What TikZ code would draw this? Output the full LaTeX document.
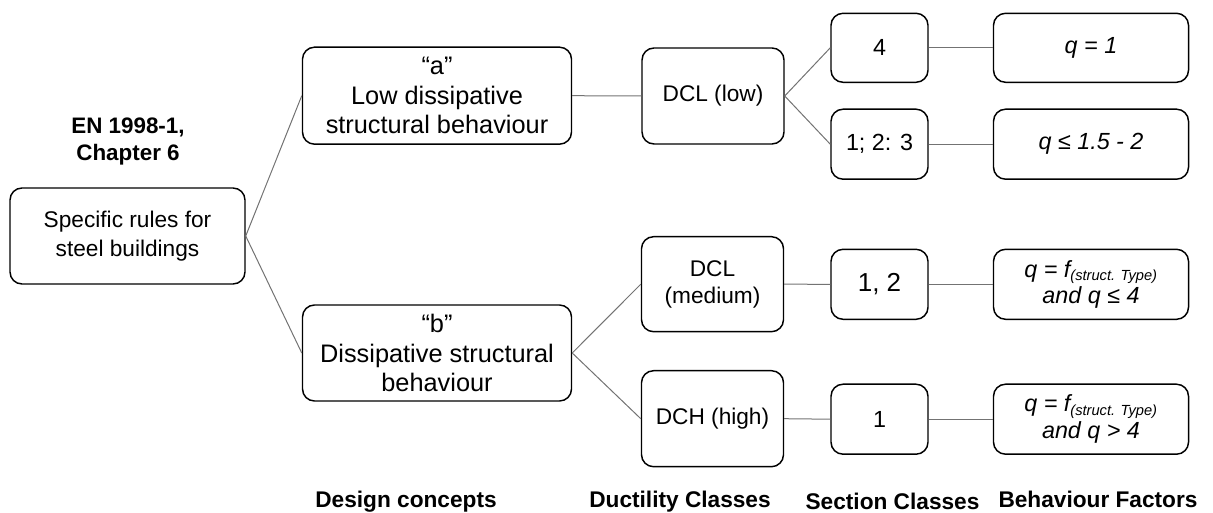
\documentclass[tikz,border=0pt]{standalone}
\usepackage{fontspec}
\setmainfont{Liberation Sans}
\newdimen\pxu
\pxu=0.75pt
\begin{document}
\begin{tikzpicture}[x=0.75pt,y=-0.75pt,
  box/.style={draw=black, line width=1.1pt, rounded corners=9pt, align=center, inner sep=0pt,
              font=\fontsize{17}{22}\selectfont},
  link/.style={draw=black!55, line width=0.75pt},
  head/.style={font=\bfseries\fontsize{17}{20}\selectfont, inner sep=0pt, anchor=base},
  qt/.style={font=\itshape\fontsize{17.5}{20}\selectfont}]
\useasboundingbox (0,0) rectangle (1213,513);

\node[font=\bfseries\fontsize{16.8}{20}\selectfont, align=center, inner sep=0pt] (title) at (128,141.5) {EN 1998-1,\\Chapter 6};

\node[box, minimum width=235\pxu, minimum height=96\pxu] (root) at (127.5,236) {Specific rules for\\steel buildings};
\node[box, font=\fontsize{19}{22}\selectfont, minimum width=269\pxu, minimum height=97\pxu] (a) at (437,95.7) {``a''\\Low dissipative\\structural behaviour};
\node[box, font=\fontsize{19}{22}\selectfont, minimum width=269\pxu, minimum height=96\pxu] (b) at (437,353) {``b''\\Dissipative structural\\behaviour};

\node[box, minimum width=142\pxu, minimum height=96\pxu] (dcl) at (713,96) {DCL (low)};
\node[box, minimum width=142\pxu, minimum height=95\pxu, font=\fontsize{17}{20}\selectfont] (dclm) at (712.5,284.2) {DCL\\(medium)};
\node[box, minimum width=142\pxu, minimum height=96\pxu] (dch) at (712.5,418.7) {DCH (high)};

\node[box, font=\fontsize{17.5}{20}\selectfont, minimum width=97\pxu, minimum height=69\pxu] (s4) at (879.5,47.8) {4};
\node[box, font=\fontsize{17.5}{20}\selectfont, minimum width=97\pxu, minimum height=70\pxu] (s123) at (879.5,144.2) {1; 2: 3};
\node[box, minimum width=97\pxu, minimum height=70\pxu, font=\fontsize{19.5}{22}\selectfont] (s12) at (879.5,284.3) {1, 2};
\node[box, minimum width=97\pxu, minimum height=70\pxu, font=\fontsize{17.5}{20}\selectfont] (s1) at (879.5,419.2) {1};

\node[box, qt, minimum width=195\pxu, minimum height=69\pxu] (q1) at (1091,47.8) {q = 1};
\node[box, qt, minimum width=195\pxu, minimum height=70\pxu] (q2) at (1091,144.2) {q ≤ 1.5 - 2};
\node[box, qt, minimum width=195\pxu, minimum height=70\pxu] (q3) at (1091,284.3) {q = f\textsubscript{\fontsize{11}{12}\selectfont(struct. Type)}\\and q ≤ 4};
\node[box, qt, minimum width=195\pxu, minimum height=70\pxu] (q4) at (1091,419.2) {q = f\textsubscript{\fontsize{11}{12}\selectfont(struct. Type)}\\and q > 4};

\draw[link] (root.east) -- (a.west);
\draw[link] (root.east) -- (b.west);
\draw[link] (a.east) -- (dcl.west);
\draw[link] (dcl.east) -- (s4.west);
\draw[link] (dcl.east) -- (s123.west);
\draw[link] (s4.east) -- (q1.west);
\draw[link] (s123.east) -- (q2.west);
\draw[link] (b.east) -- (dclm.west);
\draw[link] (b.east) -- (dch.west);
\draw[link] (dclm.east) -- (s12.west);
\draw[link] (s12.east) -- (q3.west);
\draw[link] (dch.east) -- (s1.west);
\draw[link] (s1.east) -- (q4.west);

\node[head] (h1) at (406,507) {Design concepts};
\node[head] (h2) at (680,507) {Ductility Classes};
\node[head] (h3) at (892.5,509) {Section Classes};
\node[head] (h4) at (1098,507) {Behaviour Factors};
\end{tikzpicture}
\end{document}
